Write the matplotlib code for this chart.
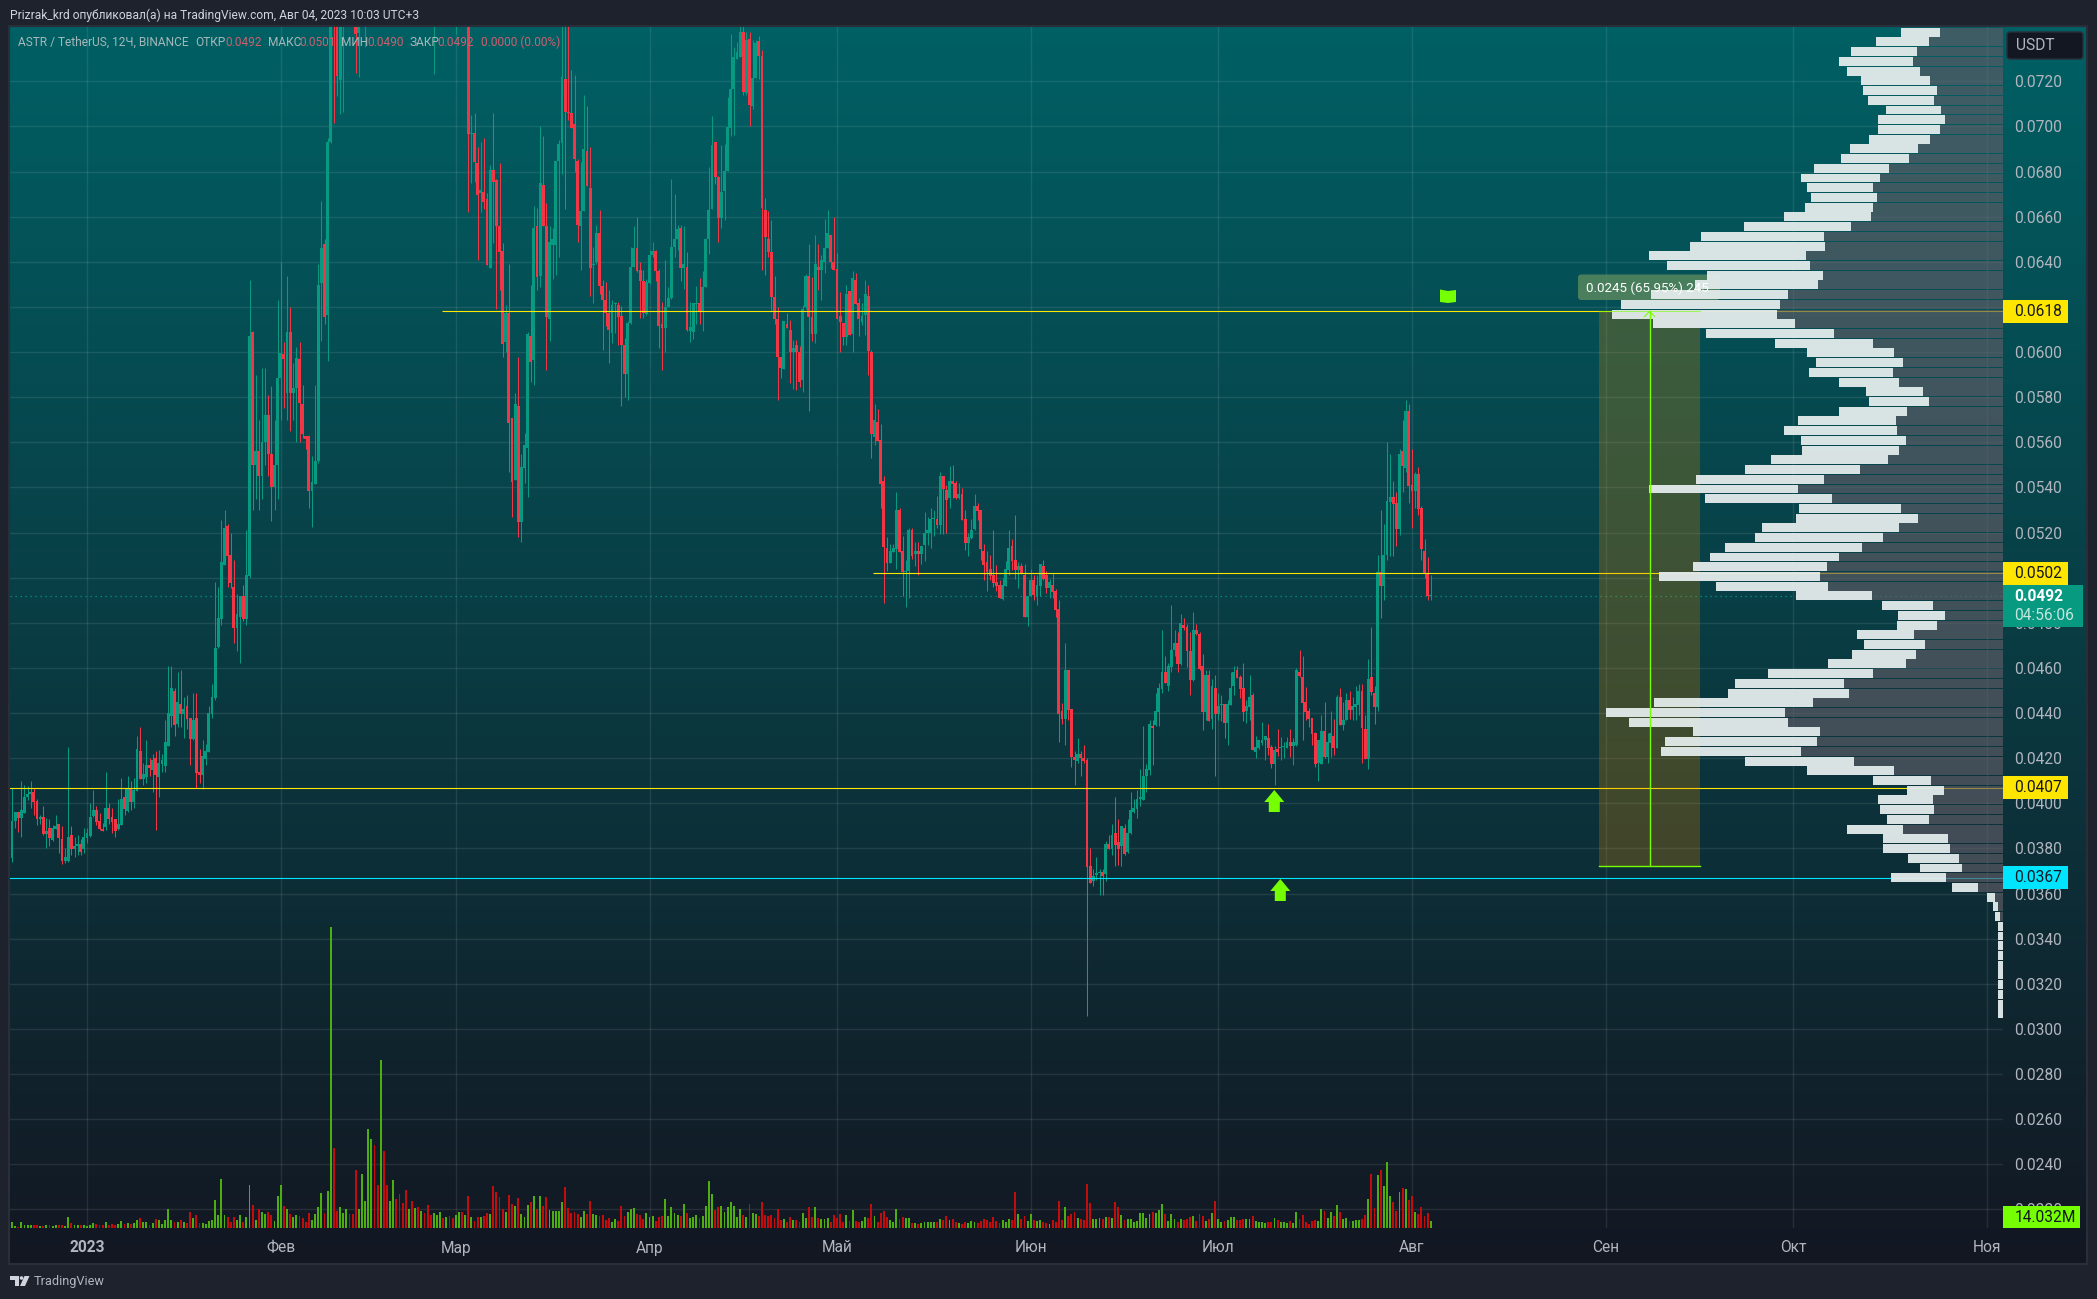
import numpy as np
import matplotlib
matplotlib.use("Agg")
import matplotlib.pyplot as plt
from matplotlib.patches import Rectangle, Polygon, Circle, FancyBboxPatch

plt.rcParams["font.family"] = ["Roboto", "DejaVu Sans"]

# prices are in units of 0.00001, one entry per 12h candle
opens = [
    3757, 3922, 3961, 3937, 3959, 4027, 4042, 4051, 4011, 3930,
    3940, 3865, 3890, 3838, 3887, 3909, 3843, 3745, 3745, 3860,
    3798, 3809, 3820, 3798, 3847, 3857, 3944, 3971, 3922, 3888,
    3896, 3980, 3940, 3931, 3888, 3905, 4029, 3967, 4068, 4006,
    4055, 4232, 4108, 4117, 4170, 4148, 4201, 4117, 4175, 4166,
    4255, 4388, 4498, 4352, 4441, 4396, 4432, 4379, 4286, 4379,
    4139, 4126, 4197, 4228, 4396, 4467, 4693, 4817, 5057, 5229,
    5101, 4959, 4777, 4826, 4919, 4817, 5008,
    6090, 5500, 5560, 5450, 5600, 5720, 5550, 5400, 5500, 5884,
    5991, 5817, 6089, 5817, 5839, 5968, 5771, 5628, 5628, 5386,
    5416, 5519, 6307, 6478, 6165, 6929, 7700, 7600, 7206, 7500,
    7700, 7900, 7750, 7650, 7414, 7800, 8000, 8150, 8500, 8700,
    8400, 8200, 8900, 8500, 8200, 8350, 8500, 8300, 8150, 8000,
    7900, 8050, 7900, 8000, 7880, 7950, 7850, 7750, 7650, 7750,
    7850, 7950, 7850, 7950, 7800, 7700, 7850, 7950, 7850, 7950,
    6965, 6969, 6839, 6707, 6710, 6677, 6374, 6807, 6764, 6557,
    6448, 6045, 6175, 5706, 5434, 5760, 5249, 5486, 5576, 6073,
    5965, 6557, 6335, 6741, 6557, 6148, 6475, 6475, 6845, 6927,
    7212, 7062, 7060, 7010, 6848, 6557, 6625, 6891, 6726, 6385,
    6397, 6527, 6291, 6231, 6175, 6085, 6213, 6210, 6160, 6030,
    5903, 6130, 6377, 6460, 6362, 6313, 6168, 6307, 6430, 6448,
    6358, 6126, 6108, 6198, 6238, 6467, 6500, 6550, 6374, 6377,
    6093, 6088, 6213, 6216, 6178, 6288, 6500, 6632, 6930, 6777,
    6595, 6714, 6804, 6995, 7168, 7299, 7306, 7419, 7149, 7386,
    7089, 7216, 7380, 7314, 6631, 6500, 6445, 6246, 6148, 5976,
    5925, 6126, 6100, 6000, 6030, 6000, 5876, 6198, 6337, 6157,
    6078, 6377,
    6364, 6397, 6460, 6519, 6400, 6369, 6160, 6131, 6069, 6271,
    6079, 6320, 6218, 6134, 6165, 6249, 6001, 5624, 5691, 5611,
    5429, 5132, 5066, 5115, 5128, 5301, 5119, 5026, 5030, 5212,
    5106, 5119, 5106, 5146, 5197, 5197, 5259, 5261, 5234, 5451,
    5389, 5355, 5429, 5419, 5355, 5372, 5261, 5155, 5177, 5217,
    5319, 5301, 5119, 5070, 5039, 5013, 4982, 4968, 4905, 4964,
    5035, 5141, 5079, 5035, 5053, 5013, 4828, 4920, 4991, 4917,
    4964, 5053, 5013, 4955, 4968, 4942, 4862,
    4410, 4375, 4592, 4419, 4206, 4188, 4219, 4202, 4193, 3723,
    3657, 3683, 3691, 3694, 3685, 3821, 3798, 3868, 3830, 3809,
    3892, 3785, 3868, 3960, 3976, 4020, 4016, 4122, 4149, 4339,
    4348, 4406, 4507, 4583, 4518, 4606, 4680, 4711, 4618, 4791,
    4782, 4673, 4547, 4769, 4751, 4609, 4406, 4570, 4375, 4512,
    4397, 4437, 4441, 4358, 4437, 4521, 4592, 4561, 4512, 4410,
    4429, 4481, 4228, 4246, 4267, 4281, 4289, 4250, 4175, 4242,
    4246, 4250, 4246, 4273, 4255, 4258, 4583, 4561, 4450, 4410,
    4379, 4311, 4178, 4175, 4321, 4206, 4267, 4299, 4246, 4472,
    4348, 4370, 4459, 4414, 4429, 4437, 4499, 4330, 4197, 4561,
    4490, 4428, 5026, 4964, 5101, 5336, 5358, 5332, 5216, 5562,
    5487, 5739, 5411, 5385, 5460, 5309, 5119, 5021, 4920,
]
closes = [
    3922, 3961, 3937, 3971, 4027, 4042, 4051, 4008, 3930, 3940,
    3865, 3879, 3848, 3890, 3900, 3847, 3745, 3761, 3851, 3798,
    3812, 3820, 3785, 3851, 3869, 3940, 3971, 3918, 3888, 3878,
    3980, 3930, 3919, 3878, 3909, 4018, 3975, 4068, 4006, 4060,
    4241, 4108, 4131, 4170, 4157, 4193, 4126, 4179, 4193, 4272,
    4399, 4512, 4348, 4450, 4396, 4419, 4374, 4286, 4370, 4135,
    4126, 4210, 4232, 4399, 4472, 4689, 4822, 5070, 5221, 5096,
    4975, 4777, 4839, 4919, 4817, 5012, 6071,
    5500, 5560, 5450, 5600, 5720, 5550, 5400, 5500, 5884, 5994,
    5968, 6089, 5817, 5839, 5972, 5773, 5636, 5616, 5386, 5426,
    5519, 6297, 6460, 6157, 6932, 7700, 7600, 7224, 7500, 7700,
    7900, 7750, 7650, 7408, 7800, 8000, 8150, 8500, 8700, 8400,
    8200, 8900, 8500, 8200, 8350, 8500, 8300, 8150, 8000, 7900,
    8050, 7900, 8000, 7880, 7950, 7850, 7750, 7650, 7750, 7850,
    7950, 7850, 7950, 7800, 7700, 7850, 7950, 7850, 7950, 6966,
    6969, 6842, 6698, 6717, 6667, 6385, 6807, 6755, 6557, 6445,
    6037, 6175, 5685, 5426, 5771, 5246, 5489, 5586, 6081, 5958,
    6550, 6332, 6749, 6557, 6156, 6488, 6500, 6848, 6920, 7219,
    7066, 7059, 6995, 6857, 6565, 6625, 6899, 6737, 6374, 6388,
    6527, 6295, 6231, 6175, 6096, 6210, 6216, 6157, 6030, 5903,
    6127, 6377, 6460, 6358, 6317, 6175, 6310, 6430, 6448, 6358,
    6117, 6108, 6198, 6238, 6467, 6500, 6547, 6374, 6389, 6097,
    6111, 6216, 6219, 6178, 6288, 6500, 6629, 6917, 6777, 6595,
    6710, 6804, 6998, 7168, 7306, 7329, 7419, 7153, 7381, 7093,
    7216, 7372, 7314, 6637, 6508, 6445, 6246, 6148, 5976, 5928,
    6138, 6108, 6000, 6018, 6000, 5868, 6190, 6337, 6157, 6078,
    6389, 6365,
    6408, 6460, 6527, 6397, 6364, 6147, 6134, 6067, 6258, 6076,
    6329, 6214, 6147, 6160, 6258, 6005, 5637, 5700, 5606, 5416,
    5137, 5066, 5119, 5132, 5301, 5115, 5026, 5030, 5212, 5097,
    5119, 5106, 5141, 5197, 5212, 5259, 5262, 5234, 5451, 5394,
    5345, 5429, 5416, 5355, 5372, 5256, 5155, 5180, 5212, 5319,
    5296, 5128, 5057, 5026, 5008, 4977, 4964, 4908, 4968, 5038,
    5132, 5075, 5035, 5053, 5017, 4828, 4920, 4991, 4924, 4968,
    5062, 4994, 4955, 4982, 4937, 4858, 4397,
    4375, 4592, 4414, 4206, 4193, 4219, 4202, 4188, 3720, 3648,
    3679, 3691, 3694, 3679, 3821, 3798, 3861, 3816, 3798, 3900,
    3776, 3868, 3971, 3980, 4020, 4030, 4122, 4153, 4352, 4336,
    4410, 4512, 4583, 4534, 4609, 4680, 4711, 4618, 4800, 4779,
    4676, 4547, 4769, 4750, 4596, 4406, 4570, 4366, 4521, 4397,
    4432, 4441, 4358, 4441, 4512, 4583, 4556, 4507, 4406, 4432,
    4472, 4237, 4250, 4281, 4281, 4299, 4246, 4175, 4237, 4228,
    4250, 4252, 4273, 4255, 4273, 4592, 4565, 4445, 4406, 4375,
    4308, 4175, 4281, 4321, 4206, 4273, 4311, 4246, 4472, 4348,
    4370, 4459, 4414, 4432, 4441, 4499, 4335, 4197, 4552, 4494,
    4428, 5026, 4964, 5101, 5340, 5358, 5327, 5216, 5549, 5496,
    5739, 5407, 5385, 5460, 5305, 5128, 5021, 4920, 4922,
]
highs = [
    4067, 3961, 3961, 4097, 4082, 4079, 4097, 4067, 4018, 3949,
    3989, 3934, 3931, 3905, 3949, 3909, 3900, 3801, 4249, 3900,
    3853, 3860, 3843, 3890, 3890, 4000, 4060, 3989, 3956, 3912,
    4139, 4000, 3978, 3931, 4018, 4114, 4067, 4122, 4099, 4111,
    4299, 4339, 4178, 4281, 4200, 4219, 4232, 4237, 4219, 4370,
    4609, 4609, 4510, 4584, 4591, 4473, 4481, 4379, 4488, 4488,
    4241, 4281, 4263, 4432, 4529, 4981, 4959, 5256, 5300, 5238,
    5197, 5079, 4928, 4919, 4968, 5212, 6319,
    6095, 5900, 5700, 5930, 5930, 5810, 5850, 5700, 6231, 6398,
    6046, 6337, 6201, 5950, 6024, 6046, 5853, 5628, 5628, 5539,
    5856, 6392, 6670, 6500, 6947, 7800, 8100, 7850, 7600, 7800,
    8000, 8050, 7900, 7950, 7900, 8100, 8300, 8700, 9000, 8900,
    8600, 9300, 9100, 8700, 8500, 8700, 8600, 8400, 8300, 8100,
    8200, 8150, 8100, 8100, 8050, 8000, 7900, 7800, 7850, 7950,
    8050, 8000, 8050, 8000, 7900, 7950, 8050, 8000, 8050, 8000,
    7052, 7059, 6909, 6932, 6950, 6707, 6830, 7059, 6767, 6839,
    6482, 6210, 6392, 5706, 5819, 5977, 5549, 5643, 6088, 6298,
    6647, 6640, 7000, 6959, 6662, 6557, 6550, 6849, 6939, 7500,
    7500, 7500, 7251, 7228, 6857, 6842, 7138, 7089, 6909, 6467,
    6565, 6629, 6320, 6310, 6273, 6231, 6220, 6220, 6205, 6063,
    6138, 6467, 6557, 6599, 6400, 6362, 6325, 6452, 6490, 6452,
    6370, 6220, 6407, 6288, 6767, 6702, 6565, 6565, 6557, 6445,
    6220, 6216, 6295, 6329, 6359, 6500, 6819, 7048, 6932, 6782,
    6917, 6920, 7129, 7408, 7351, 7374, 7480, 7480, 7419, 7419,
    7381, 7384, 7399, 7339, 6684, 6625, 6587, 6335, 6198, 5980,
    6138, 6175, 6141, 6055, 6055, 6025, 6210, 6347, 6478, 6332,
    6520, 6478,
    6431, 6589, 6630, 6519, 6599, 6438, 6268, 6131, 6298, 6271,
    6360, 6349, 6240, 6216, 6320, 6298, 6010, 5770, 5748, 5682,
    5451, 5180, 5150, 5150, 5381, 5310, 5183, 5079, 5221, 5221,
    5159, 5159, 5141, 5292, 5268, 5310, 5301, 5360, 5469, 5451,
    5412, 5493, 5500, 5429, 5419, 5397, 5301, 5197, 5261, 5372,
    5330, 5301, 5150, 5119, 5101, 5212, 5057, 4991, 4998, 5072,
    5212, 5172, 5279, 5070, 5064, 5062, 4920, 5039, 5013, 5013,
    5062, 5079, 5030, 4994, 5023, 4952, 4902,
    4444, 4710, 4592, 4419, 4234, 4289, 4234, 4259, 4200, 3801,
    3708, 3762, 3708, 3708, 3831, 3861, 3909, 4030, 3931, 3900,
    3909, 3931, 4051, 4020, 4060, 4153, 4341, 4175, 4370, 4370,
    4488, 4533, 4769, 4651, 4621, 4880, 4769, 4761, 4840, 4821,
    4795, 4761, 4847, 4795, 4761, 4661, 4592, 4592, 4550, 4570,
    4491, 4481, 4441, 4459, 4584, 4609, 4609, 4570, 4621, 4459,
    4570, 4488, 4299, 4281, 4361, 4299, 4352, 4259, 4252, 4330,
    4293, 4274, 4296, 4330, 4289, 4602, 4680, 4651, 4515, 4422,
    4379, 4314, 4281, 4392, 4448, 4311, 4410, 4375, 4481, 4510,
    4451, 4488, 4496, 4473, 4521, 4530, 4530, 4392, 4640, 4781,
    4521, 5101, 5301, 5239, 5602, 5549, 5429, 5380, 5571, 5699,
    5788, 5770, 5571, 5470, 5491, 5318, 5172, 5092, 5013,
]
lows = [
    3742, 3890, 3871, 3853, 3959, 4015, 3981, 3949, 3902, 3909,
    3860, 3801, 3812, 3831, 3885, 3782, 3732, 3735, 3742, 3772,
    3764, 3772, 3772, 3779, 3823, 3853, 3939, 3902, 3882, 3878,
    3882, 3909, 3868, 3853, 3882, 3905, 3949, 3961, 3971, 3978,
    4055, 4107, 4082, 4089, 4119, 4052, 3882, 4030, 4141, 4141,
    4252, 4340, 4299, 4340, 4340, 4289, 4330, 4170, 4281, 4067,
    4089, 4063, 4170, 4228, 4377, 4458, 4687, 4791, 5057, 4961,
    4953, 4710, 4673, 4621, 4810, 4791, 5000,
    5300, 5350, 5300, 5350, 5500, 5450, 5250, 5300, 5350, 5700,
    5750, 5700, 5650, 5700, 5600, 5600, 5621, 5571, 5311, 5224,
    5416, 5509, 6048, 6123, 5962, 6925, 7014, 7134, 7055, 7063,
    7500, 7600, 7550, 7239, 7219, 7700, 7351, 8000, 8300, 8200,
    8000, 8100, 8300, 8000, 8100, 8200, 8100, 8000, 7900, 7750,
    7800, 7800, 7800, 7750, 7750, 7700, 7650, 7550, 7231, 7650,
    7750, 7750, 7800, 7700, 7600, 7411, 7750, 7750, 7750, 6620,
    6749, 6752, 6407, 6620, 6632, 6385, 6374, 6482, 6190, 6273,
    5980, 6000, 5467, 5269, 5434, 5179, 5157, 5419, 5359, 5868,
    5853, 6273, 6288, 6557, 5920, 6051, 6325, 6340, 6422, 6789,
    6632, 7029, 6995, 6797, 6490, 6362, 6625, 6737, 6250, 6216,
    6392, 6258, 6010, 6115, 5953, 6040, 6085, 6033, 5763, 5801,
    5789, 6123, 6377, 6355, 6153, 6153, 6165, 6302, 6422, 6317,
    6018, 5920, 6000, 6198, 6235, 6422, 6452, 6314, 6280, 6093,
    6043, 6060, 6123, 6123, 6093, 6288, 6434, 6632, 6744, 6490,
    6550, 6587, 6804, 6959, 6962, 7299, 7306, 7141, 7141, 7000,
    7078, 7213, 7209, 6362, 6340, 6422, 6186, 6123, 5789, 5883,
    5925, 6108, 5861, 5838, 5831, 5846, 5823, 6190, 5741, 6048,
    6040, 6273,
    6231, 6352, 6460, 6372, 6364, 6147, 6002, 6032, 6032, 6076,
    6001, 6214, 6073, 6120, 6076, 5899, 5531, 5589, 5606, 5308,
    4887, 5028, 5064, 5112, 5038, 5112, 4920, 4872, 4911, 5082,
    5053, 5013, 5062, 5072, 5146, 5132, 5186, 5221, 5194, 5194,
    5197, 5308, 5352, 5349, 5349, 5256, 5121, 5094, 5171, 5212,
    5254, 5079, 4991, 4942, 4991, 4961, 4942, 4908, 4902, 4964,
    5013, 5035, 4994, 4954, 5017, 4828, 4784, 4917, 4902, 4880,
    4920, 4991, 4932, 4911, 4911, 4825, 4274,
    4352, 4259, 4370, 4163, 4082, 4178, 4123, 4178, 3057, 3648,
    3632, 3661, 3592, 3592, 3654, 3798, 3772, 3723, 3728, 3723,
    3772, 3779, 3865, 3957, 3934, 3989, 4016, 4052, 4126, 4171,
    4341, 4344, 4491, 4533, 4499, 4584, 4651, 4584, 4614, 4769,
    4606, 4481, 4540, 4747, 4589, 4323, 4370, 4366, 4330, 4122,
    4370, 4363, 4289, 4259, 4437, 4481, 4555, 4466, 4363, 4355,
    4370, 4237, 4200, 4242, 4259, 4193, 4214, 4156, 4082, 4211,
    4193, 4200, 4245, 4205, 4171, 4252, 4562, 4281, 4370, 4338,
    4259, 4163, 4100, 4175, 4200, 4178, 4205, 4214, 4246, 4348,
    4323, 4370, 4375, 4370, 4370, 4392, 4178, 4197, 4153, 4481,
    4352, 4410, 4822, 4902, 5079, 5094, 5094, 5141, 5190, 5382,
    5470, 5333, 5221, 5308, 5278, 5079, 4998, 4902, 4902,
]
# volume in millions
volumes = [
    12, 4, 3, 12, 6, 6, 6, 6, 6, 4, 4, 6, 6, 4, 6, 6, 6, 4, 22, 10,
    6, 6, 6, 6, 4, 6, 10, 8, 6, 6, 12, 6, 8, 6, 8, 14, 8, 10, 8, 10,
    16, 20, 12, 12, 6, 10, 18, 16, 8, 16, 38, 16, 12, 12, 16, 12, 10, 32, 20, 26,
    10, 10, 8, 14, 16, 56, 26, 98, 26, 22, 12, 22, 16, 26, 12, 22, 86, 46, 16, 38,
    32, 28, 32, 26, 14, 64, 86, 44, 38, 28, 22, 26, 24, 20, 12, 30, 16, 28, 42, 70,
    30, 74, 602, 160, 34, 42, 30, 38, 28, 28, 116, 38, 108, 54, 198, 178, 166, 86, 336, 154,
    86, 54, 96, 58, 68, 50, 76, 38, 54, 40, 42, 34, 30, 46, 26, 30, 26, 32, 20, 22,
    24, 20, 26, 32, 32, 26, 64, 22, 14, 22, 22, 24, 30, 28, 84, 72, 62, 38, 32, 66,
    48, 44, 60, 28, 22, 46, 52, 64, 38, 64, 44, 62, 36, 34, 34, 34, 52, 82, 40, 30,
    32, 28, 22, 34, 28, 54, 28, 26, 24, 26, 16, 20, 12, 18, 14, 44, 24, 32, 38, 40,
    28, 26, 18, 30, 22, 24, 14, 22, 24, 58, 24, 42, 30, 26, 24, 48, 30, 20, 22, 26,
    20,
    24, 44, 94, 68, 36, 42, 44, 32, 42, 52, 44, 22, 38, 26, 22, 48, 30, 28, 24, 52,
    26, 24, 26, 20, 38, 16, 18, 12, 22, 16, 16, 12, 30, 20, 42, 22, 42, 20, 18, 18,
    20, 12, 26, 20, 28, 12, 26, 14, 36, 14, 12, 14, 22, 20, 48, 24, 12, 30, 34, 22,
    16, 12, 38, 18, 22, 20, 20, 10, 10, 8, 10, 12, 12, 12, 12, 12, 18, 16, 24, 16,
    18, 12, 10, 8, 12, 10, 14, 12, 10, 14, 18, 16, 12, 22, 14, 10, 16, 12, 18, 16,
    72, 28, 18, 24, 14, 28, 16, 14, 16, 12, 10, 8, 16, 12, 54, 16, 42, 24, 28, 32,
    20, 18, 16, 88, 50, 18, 18, 20, 18, 22, 22, 20, 52, 42, 26, 16, 18, 18, 12, 14,
    30, 30, 20, 28, 32, 30, 36, 48, 28, 14, 28, 18, 12, 18, 16, 18, 22, 24, 14, 28,
    24, 14, 18, 30, 54, 18, 12, 14, 16, 22, 22, 16, 16, 18, 18, 18, 24, 14, 12, 12,
    10, 12, 12, 20, 16, 12, 12, 10, 14, 10, 32, 18, 26, 12, 8, 14, 16, 14, 38, 34,
    20, 32, 24, 46, 32, 18, 20, 14, 14, 16, 16, 18, 26, 58, 108, 40, 106, 116, 84, 132,
    64, 52, 34, 72, 80, 78, 56, 64, 32, 28, 42, 24, 30, 14,
]

# volume profile, rows from the top of the pane down
vp_up = [
    63, 74, 86, 90, 83, 73, 66, 69, 62, 58, 63, 73, 85, 94, 114, 123, 130, 126, 130, 132,
    152, 179, 178, 197, 193, 180, 185, 215, 223, 226, 208, 169, 130, 109, 100, 110, 104, 80, 74, 96,
    107, 106, 97, 104, 115, 143, 179, 205, 171, 102, 85, 104, 120, 141, 164, 176, 183, 175, 131, 70,
    58, 66, 89, 78, 87, 97, 130, 159, 154, 190, 218, 215, 183, 186, 202, 149, 109, 72, 59, 70,
    69, 74, 100, 55, 53, 44, 41, 57, 25, 8, 5, 3, 0, 0, 0, 0, 0, 0, 0, 0, 0, 0,
]
vp_down = [
    39, 53, 66, 74, 73, 69, 74, 66, 55, 67, 62, 61, 68, 68, 75, 79, 66, 66, 68, 87,
    107, 123, 135, 157, 143, 116, 123, 137, 159, 165, 142, 128, 98, 87, 87, 84, 60, 57, 60, 68,
    98, 113, 105, 97, 117, 115, 128, 149, 127, 102, 122, 137, 128, 137, 129, 134, 161, 112, 76, 51,
    47, 40, 57, 61, 64, 78, 105, 109, 121, 159, 179, 159, 127, 152, 140, 109, 87, 58, 37, 55,
    54, 42, 56, 65, 67, 51, 42, 55, 26, 8, 5, 5, 5, 5, 5, 5, 5, 5, 5, 5, 5, 5,
]
vp_top = 7439
vp_step = 43.07

month_days = [0, 31, 59, 90, 120, 151, 181, 212, 243, 273, 304]
month_labels = ["2023", "Фев", "Мар", "Апр", "Май", "Июн", "Июл", "Авг", "Сен", "Окт", "Ноя"]
price_ticks = list(range(2200, 7400, 200))
hidden_ticks = [5000, 6200]  # fully behind the yellow tags

# drawn levels: price, first day, colour
levels = [6180, 5020, 4070, 3670]
level_starts = [56.8, 125.8, -13, -13]
level_colors = ["#ffe600", "#ffe600", "#ffe600", "#00e5ff"]
last_price = 4920
range_low = 3722

# pixel layout of the pane
W, H = 2097, 1299
pane_l, pane_r, pane_t, pane_b = 10, 2003, 27, 1228
frame_r, frame_b = 2086, 1263
x0_px, px_per_day = 87, 6.25
y_max, y_min = 7440.7, 2117.9

fig = plt.figure(figsize=(W / 100, H / 100), dpi=100, facecolor="#1e222d")


def pane_axes(zorder):
    a = fig.add_axes([pane_l / W, 1 - pane_b / H, (pane_r - pane_l) / W, (pane_b - pane_t) / H], zorder=zorder)
    a.patch.set_visible(False)
    return a


def pixel_axes(zorder):
    a = fig.add_axes([0, 0, 1, 1], zorder=zorder)
    a.patch.set_visible(False)
    a.set_xlim(0, W)
    a.set_ylim(H, 0)
    a.axis("off")
    return a


def y_of(price):
    return pane_t + (y_max - price) / (y_max - y_min) * (pane_b - pane_t)


# background: gradient over pane and axes
ax_bg = pixel_axes(0)
grad = np.zeros((256, 1, 3))
t = np.linspace(0, 1, 256)[:, None]
grad[:, :, 0] = (0 + 19 * t) / 255
grad[:, :, 1] = (96 - 73 * t) / 255
grad[:, :, 2] = (100 - 66 * t) / 255
ax_bg.imshow(grad, extent=(pane_l, frame_r, frame_b, pane_t), aspect="auto", zorder=1)
ax_bg.set_xlim(0, W)
ax_bg.set_ylim(H, 0)
ax_bg.add_patch(Rectangle((pane_l - 1, pane_t - 1), frame_r - pane_l + 2, frame_b - pane_t + 2,
                          fc="none", ec="#2a2e39", lw=1.5, zorder=2))

# candles
ax = pane_axes(1)
days = -12 + 0.5 * np.arange(len(opens))
o = np.array(opens, dtype=float)
c = np.array(closes, dtype=float)
hi = np.array(highs, dtype=float)
lo = np.array(lows, dtype=float)
up = c >= o
cols = np.where(up, "#089981", "#f23645")
body_h = np.maximum(np.abs(c - o), 5)
ax.vlines(days, lo, hi, colors=cols, lw=0.75, zorder=3)
ax.bar(days, body_h, bottom=np.minimum(o, c), width=0.46, color=cols, linewidth=0, zorder=4)

ax.set_xlim((pane_l - x0_px) / px_per_day, (pane_r - x0_px) / px_per_day)
ax.set_ylim(y_min, y_max)
for s in ax.spines.values():
    s.set_visible(False)
ax.set_xticks(month_days)
ax.set_xticklabels(month_labels)
ax.set_yticks(price_ticks)
ax.set_yticklabels(["" if p in hidden_ticks else f"{p / 100000:.4f}" for p in price_ticks])
ax.yaxis.tick_right()
ax.tick_params(axis="y", length=0, pad=8, labelsize=11.2, labelcolor="#b2b5be")
ax.tick_params(axis="x", length=0, pad=9, labelsize=11.2, labelcolor="#b2b5be")
ax.get_xticklabels()[0].set_fontweight("bold")
ax.grid(True, color="#ffffff", alpha=0.09, lw=1)
ax.set_axisbelow(True)

for lvl, start, col in zip(levels, level_starts, level_colors):
    ax.hlines(lvl, start, ax.get_xlim()[1], colors=col, lw=0.8, zorder=5)
ax.hlines(last_price, ax.get_xlim()[0], ax.get_xlim()[1], colors="#089981", lw=0.9,
          linestyles=(0, (1, 3)), zorder=2)

# price range box sits below the volume profile
y_hi, y_lo = y_of(levels[0]), y_of(range_low)
ax_mid = pixel_axes(1.5)
ax_mid.add_patch(Rectangle((1599, y_hi), 101, y_lo - y_hi, fc="#e08a00", alpha=0.25, lw=0))
ax_mid.add_patch(FancyBboxPatch((1578, 274.5), 142, 25.5, boxstyle="round,pad=0,rounding_size=3",
                                fc="#5c8a60", alpha=0.8, lw=0))

# volume bars
ax_vol = pane_axes(2)
ax_vol.bar(days[:len(volumes)], volumes, width=0.3,
           color=np.where(up[:len(volumes)], "#4caf0f", "#c30d0d"), linewidth=0)
ax_vol.set_xlim(ax.get_xlim())
ax_vol.set_ylim(0, (pane_b - pane_t) * 2)
ax_vol.axis("off")

# volume profile on the right edge
ax_vp = pane_axes(3)
rows = vp_top - vp_step * (np.arange(len(vp_up)) + 0.5)
ax_vp.barh(rows, vp_up, height=vp_step * 0.92, color="#5e5b65", alpha=0.67, linewidth=0)
ax_vp.barh(rows, vp_down, left=vp_up, height=vp_step * 0.92, color="#e2eaea", alpha=0.96, linewidth=0)
ax_vp.set_xlim(pane_r - pane_l, 0)
ax_vp.set_ylim(y_min, y_max)
ax_vp.axis("off")

# annotations and tags, in pixel coordinates
ax_top = pixel_axes(4)

lime = "#76ff03"
ax_top.plot([1599, 1700], [y_lo, y_lo], color=lime, lw=1)
ax_top.plot([1599, 1700], [y_hi, y_hi], color=lime, lw=0.8, alpha=0.6)
ax_top.plot([1649.5, 1649.5], [y_hi, y_lo], color=lime, lw=1)
ax_top.plot([1644.5, 1649.5, 1654.5], [y_hi + 5, y_hi, y_hi + 5], color=lime, lw=0.8)
ax_top.text(1586, 288, "0.0245 (65.95%) 245", color="#ffffff", fontsize=9.6, va="center")

for ax_x, tip in [(1274.3, 790), (1280.3, 879)]:
    ax_top.add_patch(Polygon([(ax_x, tip), (ax_x + 10, tip + 12), (ax_x + 5.5, tip + 12), (ax_x + 5.5, tip + 22),
                              (ax_x - 5.5, tip + 22), (ax_x - 5.5, tip + 12), (ax_x - 10, tip + 12)],
                             fc=lime, lw=0))
ax_top.add_patch(Polygon([(1440, 289.5), (1448, 291), (1456, 290), (1456, 302), (1448, 303), (1440, 302)],
                         fc=lime, lw=0))

# price tags
for lvl, col in zip(levels, level_colors):
    yp = y_of(lvl)
    ax_top.add_patch(Rectangle((pane_r, yp - 11.5), 65, 23, fc=col, lw=0))
    ax_top.text(2014, yp, f"{lvl / 100000:.4f}", color="#131722", fontsize=11.2, va="center")

ax_top.add_patch(Rectangle((pane_r, 585), 80, 42, fc="#089981", lw=0))
ax_top.text(2014, 596, "0.0492", color="#ffffff", fontsize=11.2, fontweight="bold", va="center")
ax_top.text(2014, 615, "04:56:06", color="#c4e6df", fontsize=11.2, va="center")
ax_top.add_patch(Rectangle((pane_r, 1206), 77, 22, fc=lime, lw=0))
ax_top.text(2015, 1217.5, "14.032M", color="#131722", fontsize=11.2, va="center")

ax_top.add_patch(FancyBboxPatch((2007, 32), 76, 27, boxstyle="round,pad=0,rounding_size=3",
                                fc="#131722", ec="#2a2e39", lw=1))
ax_top.text(2016, 45.5, "USDT", color="#b2b5be", fontsize=11.2, va="center")

# header, legend and logo
ax_top.text(10, 15, "Prizrak_krd опубликовал(а) на TradingView.com, Авг 04, 2023 10:03 UTC+3",
            color="#d1d4dc", fontsize=8.65, va="center")
grey, red = "#a6b8ba", "#c9606e"
legend_parts = [
    (18, "ASTR / TetherUS, 12Ч, BINANCE", grey), (195.5, "ОТКР", grey), (225.5, "0.0492", red),
    (268, "МАКС", grey), (299, "0.0501", red), (341.5, "МИН", grey), (367, "0.0490", red),
    (410, "ЗАКР", grey), (437.5, "0.0492", red), (481, "0.0000 (0.00%)", red),
]
for lx, txt, col in legend_parts:
    ax_top.text(lx, 42, txt, color=col, fontsize=8.55, va="center")

logo = "#d1d4dc"
ax_top.add_patch(Rectangle((10, 1276), 9, 3.5, fc=logo, lw=0))
ax_top.add_patch(Rectangle((14.5, 1279), 4.5, 7, fc=logo, lw=0))
ax_top.add_patch(Circle((21.5, 1278), 1.8, fc=logo, lw=0))
ax_top.add_patch(Polygon([(24.5, 1276), (29.5, 1276), (25, 1286), (20, 1286)], fc=logo, lw=0))
ax_top.text(33.5, 1281, "TradingView", color="#b2b5be", fontsize=9.2, va="center")

fig.savefig("out.png", dpi=100, facecolor=fig.get_facecolor())
